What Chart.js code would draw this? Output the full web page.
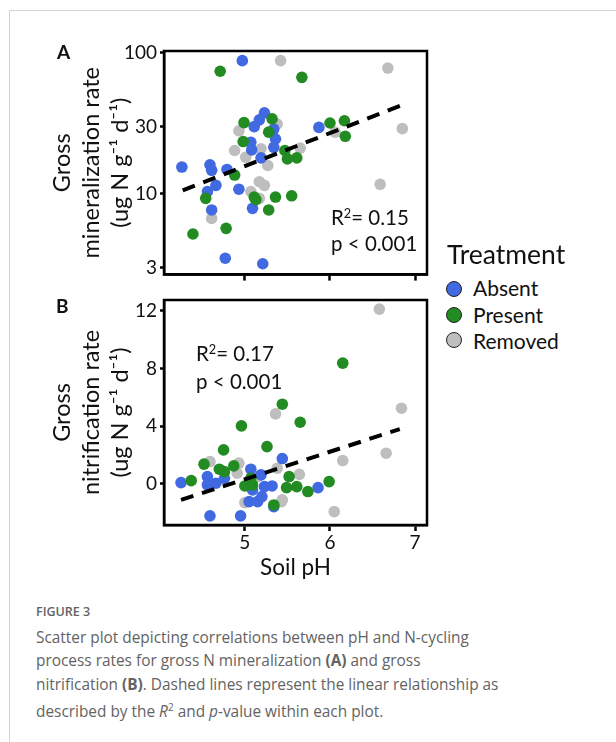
<!DOCTYPE html>
<html>
<head>
<meta charset="utf-8">
<script src="https://cdn.jsdelivr.net/npm/chart.js@4.4.0/dist/chart.umd.min.js"></script>
<style>
body { margin: 0; background: #fff; width: 616px; height: 742px; overflow: hidden; position: relative; font-family: Lato, sans-serif; }
#frame { position: absolute; left: 9px; top: 10px; width: 700px; height: 800px; border: 1px solid #d4d4d4; }
canvas { position: absolute; left: 0; }
.t { position: absolute; white-space: nowrap; color: #111; }
.t sup { font-size: 0.62em; vertical-align: 0.55em; line-height: 0; }
.dot { position: absolute; width: 14px; height: 14px; border: 1.6px solid #222; border-radius: 50%; }
.cap { position: absolute; left: 36px; white-space: nowrap; color: #636363; font-family: "Open Sans", sans-serif; }
</style>
</head>
<body>
<div id="frame"></div>
<canvas id="chartA" width="440" height="258" style="top:31px"></canvas>
<canvas id="chartB" width="440" height="310" style="top:280px"></canvas>

<div class="t" style="left:57px;top:40px;font-size:19px;font-weight:bold">A</div>
<div class="t" style="left:56px;top:294px;font-size:19px;font-weight:bold">B</div>

<div class="t" style="left:331px;top:204px;font-size:20.5px;line-height:26px">R<sup>2</sup>= 0.15</div>
<div class="t" style="left:331px;top:230px;font-size:20.5px;line-height:26px">p &lt; 0.001</div>
<div class="t" style="left:196px;top:340px;font-size:20.5px;line-height:26px">R<sup>2</sup>= 0.17</div>
<div class="t" style="left:196px;top:368px;font-size:20.5px;line-height:26px">p &lt; 0.001</div>

<div class="t" style="left:447px;top:239px;font-size:26.5px;line-height:30px">Treatment</div>
<div class="dot" style="left:446px;top:281px;background:#4169e1"></div>
<div class="t" style="left:473px;top:276px;font-size:21px;line-height:24px">Absent</div>
<div class="dot" style="left:446px;top:307px;background:#228b22"></div>
<div class="t" style="left:473px;top:303px;font-size:21px;line-height:24px">Present</div>
<div class="dot" style="left:446px;top:332px;background:#bebebe"></div>
<div class="t" style="left:473px;top:329px;font-size:21px;line-height:24px">Removed</div>

<div class="cap" style="top:603px;font-size:12.5px;font-weight:600;line-height:18px">FIGURE 3</div>
<div class="cap" style="top:626px;font-size:15.4px;line-height:23.3px">
Scatter plot depicting correlations between pH and N-cycling<br>
process rates for gross N mineralization <b>(A)</b> and gross<br>
nitrification <b>(B)</b>. Dashed lines represent the linear relationship as<br>
described by the <i>R</i><sup style="font-size:0.65em">2</sup> and <i>p</i>-value within each plot.
</div>

<script>
// tick values
var phTicks = [5, 6, 7];
var minTicks = [3, 10, 30, 100];
var nitTicks = [0, 4, 8, 12];

// A: gross mineralization rate [soil pH, ug N g-1 d-1]
var minAbsent = [[4.26, 15.5], [4.59, 16.1], [4.61, 14.7], [4.79, 14.9], [4.66, 11.5], [4.56, 10.4],
  [4.93, 10.8], [4.61, 7.7], [5.09, 7.9], [4.77, 3.5], [5.21, 3.2], [4.97, 88], [5.23, 37.5],
  [5.17, 33.5], [5.11, 30], [5.07, 23.2], [5.08, 20.5], [5.34, 28.8], [5.36, 24.5], [5.34, 21.4],
  [5.19, 18], [5.87, 29.6]];
var minPresent = [[4.71, 74], [4.39, 5.2], [4.78, 5.7], [4.54, 9.3], [4.88, 13.6], [4.99, 32],
  [4.98, 23.5], [5.32, 34], [5.28, 27.4], [5.47, 20.3], [5.50, 17.7], [5.61, 18], [5.11, 9.5],
  [5.13, 9.1], [5.36, 9.5], [5.55, 9.7], [5.28, 7.7], [5.67, 67], [6.0, 31.8], [6.17, 33], [6.18, 25.6]];
var minRemoved = [[5.42, 88], [6.68, 78], [6.85, 29], [6.59, 11.7], [6.06, 27.4], [5.65, 21.1],
  [5.38, 31.3], [4.93, 28], [4.88, 20.3], [5.01, 18.2], [5.19, 20.9], [5.27, 15.9], [5.17, 12.2],
  [5.23, 11.5], [5.07, 10.4], [5.17, 9.3], [4.61, 6.7]];
var minTrend = [[4.27, 10.6], [6.84, 42.5]];

// B: gross nitrification rate
var nitAbsent = [[4.25, 0.09], [4.56, 0.51], [4.56, -0.07], [4.66, 0.05], [4.76, 0.39], [4.59, -2.22],
  [4.95, -2.22], [5.07, 1.02], [5.19, 0.63], [5.44, 1.76], [5.09, -0.42], [5.23, -0.19], [5.32, -0.14],
  [5.05, -1.23], [5.15, -1.23], [5.20, -0.88], [5.34, -1.58], [5.86, -0.26]];
var nitPresent = [[5.44, 5.53], [5.65, 4.28], [4.96, 4.03], [4.75, 2.36], [5.26, 2.59], [4.37, 0.23],
  [4.52, 1.37], [4.70, 1.02], [4.87, 1.25], [4.76, 0.85], [5.00, -0.14], [5.07, 0.39], [5.09, -0.07],
  [5.52, 0.51], [5.49, -0.26], [5.61, -0.19], [5.74, -0.53], [5.34, -1.46], [6.15, 8.38], [5.99, 0.16]];
var nitRemoved = [[6.58, 12.13], [6.84, 5.25], [6.66, 2.13], [6.15, 1.62], [6.05, -1.92], [5.64, 0.66],
  [5.43, -1.23], [5.36, 4.86], [4.59, 1.55], [4.93, 1.44], [5.15, 0.51], [5.00, -1.3], [5.44, -1.11],
  [4.91, 0.74], [5.38, 1.09]];
var nitTrend = [[4.25, -1.11], [6.82, 3.8]];

var colAbsent = '#4169e1';
var colPresent = '#228b22';
var colRemoved = '#bebebe';

function pts(arr) {
  return arr.map(function (p) { return { x: p[0], y: p[1] }; });
}

function makeData(absent, present, removed, trend) {
  return {
    datasets: [
      { type: 'line', data: pts(trend), borderColor: '#000', borderWidth: 4, borderDash: [13, 9],
        pointRadius: 0, fill: false, order: 0 },
      { label: 'Removed', data: pts(removed), backgroundColor: colRemoved, order: 3 },
      { label: 'Absent', data: pts(absent), backgroundColor: colAbsent, order: 2 },
      { label: 'Present', data: pts(present), backgroundColor: colPresent, order: 1 }
    ]
  };
}

// box round the plot area
var frameBox = {
  id: 'frameBox',
  afterDatasetsDraw: function (chart) {
    var a = chart.chartArea, ctx = chart.ctx;
    ctx.save();
    ctx.strokeStyle = '#000';
    ctx.lineWidth = 2.5;
    ctx.strokeRect(a.left, a.top, a.right - a.left, a.bottom - a.top);
    ctx.restore();
  }
};

function makeOptions(y, xLabels, xHeight) {
  return {
    responsive: false,
    animation: false,
    layout: { padding: { left: 0, right: 13, top: 20, bottom: 0 } },
    elements: { point: { radius: 5.8, borderWidth: 0, hoverRadius: 5.8 } },
    plugins: { legend: { display: false }, tooltip: { enabled: false } },
    scales: {
      x: {
        type: 'linear', min: 4.05, max: 7.14,
        afterBuildTicks: function (s) { s.ticks = phTicks.map(function (v) { return { value: v }; }); },
        afterFit: function (s) { s.height = xHeight; },
        grid: { drawOnChartArea: false, tickLength: 6, tickWidth: 2.5, tickColor: '#000' },
        border: { color: '#000', width: 2.5 },
        ticks: { display: xLabels, color: '#111', font: { family: 'Lato', size: 19 }, padding: 0 },
        title: { display: xLabels, text: 'Soil pH', color: '#111', font: { family: 'Lato', size: 22.5 },
          padding: { top: 0, bottom: 9 } }
      },
      y: y
    }
  };
}

function yAxis(type, min, max, ticks, title) {
  return {
    type: type, min: min, max: max,
    afterBuildTicks: function (s) { s.ticks = ticks.map(function (v) { return { value: v }; }); },
    afterFit: function (s) { s.width = 164; },
    grid: { drawOnChartArea: false, tickLength: 4, tickWidth: 2.5, tickColor: '#000' },
    border: { color: '#000', width: 2.5 },
    ticks: { color: '#111', font: { family: 'Lato', size: 19 }, padding: 3,
      callback: function (v) { return String(v); } },
    title: { display: true, text: title, color: '#111',
      font: { family: 'Lato', size: 23.5, lineHeight: '29px' }, padding: { top: 48, bottom: 0 } }
  };
}

new Chart(document.getElementById('chartA').getContext('2d'), {
  type: 'scatter',
  data: makeData(minAbsent, minPresent, minRemoved, minTrend),
  options: makeOptions(yAxis('logarithmic', 2.68, 103, minTicks,
    ['Gross', 'mineralization rate', '(ug N g\u207B\u00B9 d\u207B\u00B9)']), false, 12),
  plugins: [frameBox]
});

new Chart(document.getElementById('chartB').getContext('2d'), {
  type: 'scatter',
  data: makeData(nitAbsent, nitPresent, nitRemoved, nitTrend),
  options: makeOptions(yAxis('linear', -2.85, 12.76, nitTicks,
    ['Gross', 'nitrification rate', '(ug N g\u207B\u00B9 d\u207B\u00B9)']), true, 65),
  plugins: [frameBox]
});
</script>
</body>
</html>
